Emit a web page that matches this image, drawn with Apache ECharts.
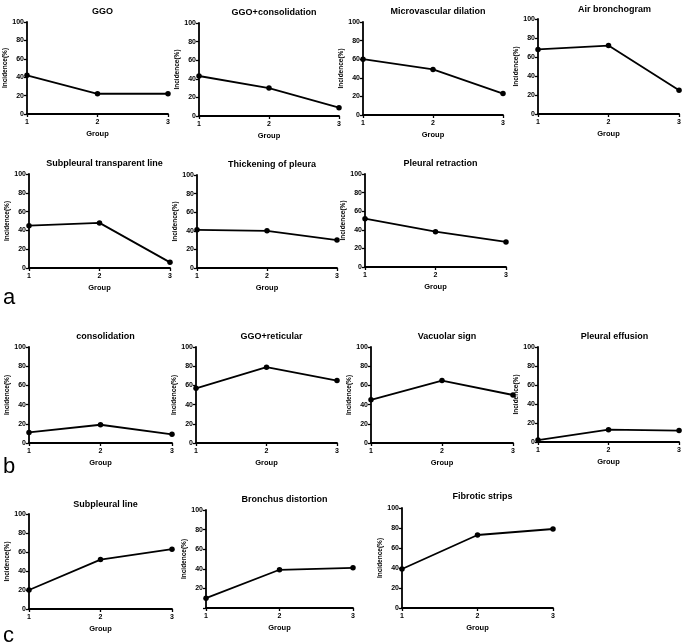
<!DOCTYPE html>
<html>
<head>
<meta charset="utf-8">
<script src="https://cdn.jsdelivr.net/npm/echarts@6/dist/echarts.min.js"></script>
<style>
  html, body { margin: 0; padding: 0; background: #fff; }
  #chart { width: 684px; height: 643px; }
</style>
</head>
<body>
<div id="chart"></div>
<script>
// Incidence (%) by group
const GROUPS = [1, 2, 3]
const ggo = [42, 22, 22]
const ggoConsolidation = [43, 30, 9]
const microvascularDilation = [60, 49, 23]
const airBronchogram = [68, 72, 25]
const subpleuralTransparentLine = [45, 48, 6]
const thickeningOfPleura = [41, 40, 30]
const pleuralRetraction = [52, 38, 27]
const consolidation = [11, 19, 9]
const ggoReticular = [57, 79, 65]
const vacuolarSign = [45, 65, 50]
const pleuralEffusion = [2, 13, 12]
const subpleuralLine = [20, 52, 63]
const bronchusDistortion = [10, 39, 41]
const fibroticStrips = [39, 73, 79]

const Y_MIN = 0
const Y_MAX = 100
const Y_STEP = 20
const X_NAME = 'Group'
const Y_NAME = 'Incidence(%)'

const FONT = '"Liberation Sans", Arial, sans-serif'

/** panel boxes: x0/x1 = axis span, y0 = top (100), y1 = baseline (0) */
const panels = [
  { title: 'GGO', values: ggo, x0: 27, x1: 168, y0: 22, y1: 114, ty: 2 },
  { title: 'GGO+consolidation', values: ggoConsolidation, x0: 199, x1: 339, y0: 23, y1: 116, ty: 3 },
  { title: 'Microvascular dilation', values: microvascularDilation, x0: 363, x1: 503, y0: 22, y1: 115, ty: 2 },
  { title: 'Air bronchogram', values: airBronchogram, x0: 538, x1: 681, y0: 19, y1: 114, ty: 0 },
  { title: 'Subpleural transparent line', values: subpleuralTransparentLine, x0: 29, x1: 170, y0: 174, y1: 268, ty: 154 },
  { title: 'Thickening of pleura', values: thickeningOfPleura, x0: 197, x1: 337, y0: 175, y1: 268, ty: 155 },
  { title: 'Pleural retraction', values: pleuralRetraction, x0: 365, x1: 506, y0: 174, y1: 267, ty: 154 },
  { title: 'consolidation', values: consolidation, x0: 29, x1: 172, y0: 347, y1: 443, ty: 327 },
  { title: 'GGO+reticular', values: ggoReticular, x0: 196, x1: 337, y0: 347, y1: 443, ty: 327 },
  { title: 'Vacuolar sign', values: vacuolarSign, x0: 371, x1: 513, y0: 347, y1: 443, ty: 327 },
  { title: 'Pleural effusion', values: pleuralEffusion, x0: 538, x1: 681, y0: 347, y1: 442, ty: 327 },
  { title: 'Subpleural line', values: subpleuralLine, x0: 29, x1: 172, y0: 514, y1: 609, ty: 495 },
  { title: 'Bronchus distortion', values: bronchusDistortion, x0: 206, x1: 353, y0: 510, y1: 608, ty: 490, hideZero: true },
  { title: 'Fibrotic strips', values: fibroticStrips, x0: 402, x1: 553, y0: 508, y1: 608, ty: 487 },
]

const panelLetters = [
  { text: 'a', x: 3, y: 287 },
  { text: 'b', x: 3, y: 456 },
  { text: 'c', x: 3, y: 625 },
]

const axisLine = { show: true, lineStyle: { color: '#000', width: 1.8 } }
const axisTick = { show: true, length: 3, lineStyle: { color: '#000', width: 1.3 } }

function buildOption() {
  const grid = []
  const xAxis = []
  const yAxis = []
  const series = []
  const title = []

  panels.forEach((p, i) => {
    grid.push({
      left: p.x0,
      top: p.y0,
      width: p.x1 - p.x0,
      height: p.y1 - p.y0,
      containLabel: false,
    })
    title.push({
      text: p.title,
      left: (p.x0 + p.x1) / 2,
      top: p.ty,
      textAlign: 'center',
      textStyle: { fontFamily: FONT, fontSize: 9, fontWeight: 'bold', color: '#000' },
    })
    xAxis.push({
      type: 'value',
      gridIndex: i,
      min: GROUPS[0],
      max: GROUPS[GROUPS.length - 1],
      interval: 1,
      name: X_NAME,
      nameLocation: 'middle',
      nameGap: 16,
      nameTextStyle: { fontFamily: FONT, fontSize: 7.5, fontWeight: 'bold', color: '#000' },
      axisLine,
      axisTick,
      splitLine: { show: false },
      axisLabel: { fontFamily: FONT, fontSize: 7, fontWeight: 'bold', color: '#000', margin: 5 },
    })
    yAxis.push({
      type: 'value',
      gridIndex: i,
      min: Y_MIN,
      max: Y_MAX,
      interval: Y_STEP,
      name: Y_NAME,
      nameLocation: 'middle',
      nameGap: 16,
      nameTextStyle: { fontFamily: FONT, fontSize: 6.5, fontWeight: 'bold', color: '#000' },
      axisLine,
      axisTick,
      splitLine: { show: false },
      axisLabel: {
        fontFamily: FONT,
        fontSize: 7,
        fontWeight: 'bold',
        color: '#000',
        margin: 3,
        formatter: (v) => (p.hideZero && v === 0 ? '' : String(v)),
      },
    })
    series.push({
      type: 'line',
      xAxisIndex: i,
      yAxisIndex: i,
      data: GROUPS.map((g, k) => [g, p.values[k]]),
      symbol: 'circle',
      symbolSize: 5.5,
      clip: false,
      lineStyle: { color: '#000', width: 1.8 },
      itemStyle: { color: '#000' },
      animation: false,
    })
  })

  return {
    backgroundColor: '#fff',
    animation: false,
    title,
    grid,
    xAxis,
    yAxis,
    series,
    graphic: panelLetters.map((l) => ({
      type: 'text',
      left: l.x,
      top: l.y,
      style: { text: l.text, font: '22px ' + FONT, fill: '#000' },
    })),
  }
}

const chart = echarts.init(document.getElementById('chart'), null, { renderer: 'canvas' })
chart.setOption(buildOption())
window.addEventListener('resize', () => chart.resize())
</script>
</body>
</html>
